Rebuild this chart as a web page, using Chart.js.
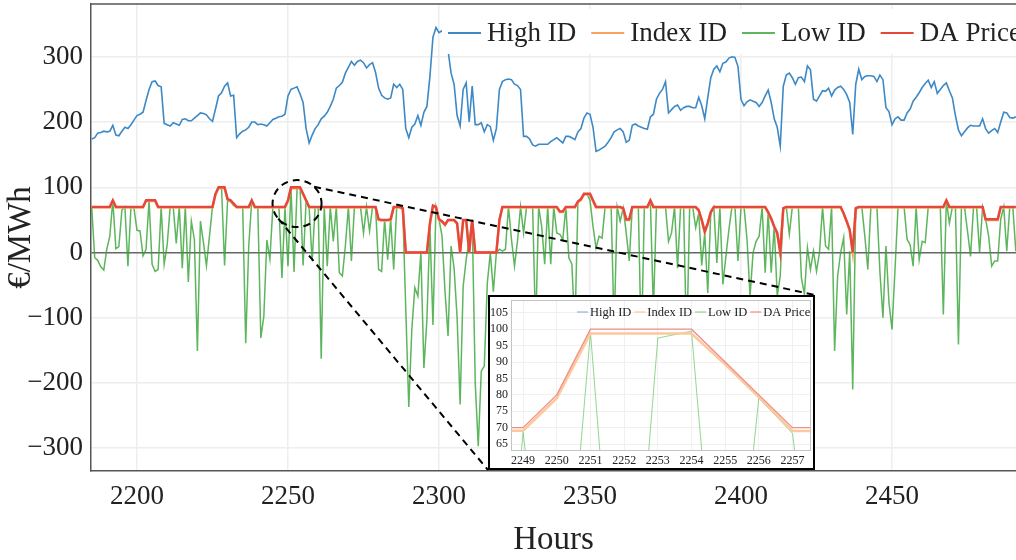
<!DOCTYPE html>
<html>
<head>
<meta charset="utf-8">
<script src="https://cdn.jsdelivr.net/npm/chart.js@4.4.1/dist/chart.umd.min.js"></script>
<style>
  html, body { margin: 0; padding: 0; background: #fff; }
  #wrap { position: relative; width: 1016px; height: 560px; overflow: hidden; }
  #mainChart { position: absolute; left: 0; top: 0; }
  #insetBox { position: absolute; left: 488px; top: 295px; width: 327px; height: 175px;
              box-sizing: border-box; border: 2px solid #000; background: #fff; }
  #insetChart { display: block; }
</style>
</head>
<body>
<div id="wrap">
  <canvas id="mainChart" width="1016" height="560"></canvas>
  <div id="insetBox"><canvas id="insetChart" width="323" height="171"></canvas></div>
</div>
<script>
// hourly prices, first value is hour 2185
const startHour = 2185;

const highID = [
  174,176,183,184,186,185,186,195,180,179,
  186,192,190,196,203,210,212,215,233,250,
  262,263,256,254,198,196,194,199,197,195,
  204,205,202,202,206,210,214,213,211,205,
  201,220,240,245,255,260,240,241,176,182,
  186,188,192,200,200,196,197,196,194,199,
  204,206,208,209,212,240,250,252,254,243,
  230,190,168,180,190,196,205,209,215,224,
  235,252,256,261,275,284,293,287,293,295,
  291,283,288,291,276,252,241,237,235,237,
  258,253,258,250,190,176,192,197,210,195,
  215,224,270,330,345,337,340,330,310,275,
  258,210,194,250,260,200,255,196,196,199,
  185,196,193,172,190,250,262,265,266,265,
  258,256,250,178,178,174,165,163,166,166,
  166,166,170,173,176,172,168,178,178,176,
  173,185,190,206,214,212,192,155,157,160,
  163,169,176,185,188,190,185,169,172,195,
  197,194,192,190,189,208,212,235,244,250,
  262,214,219,224,226,218,222,224,224,222,
  222,238,225,205,238,268,281,286,277,290,
  292,298,300,299,285,235,225,231,234,232,
  230,224,230,240,249,230,205,192,163,255,
  272,275,268,258,268,269,262,286,280,235,
  232,240,248,247,252,240,249,253,255,250,
  242,230,181,258,281,265,270,271,271,270,
  262,272,265,222,216,196,205,208,203,203,
  214,220,232,238,245,253,259,264,253,262,
  244,250,256,260,248,237,210,188,179,185,
  191,195,194,194,194,205,190,183,187,190,
  184,200,215,214,207,206,208
];

const indexID = [
  69,69,69,69,69,69,69,79,69,69,
  69,69,69,69,69,69,69,69,79,79,
  79,79,69,69,69,69,69,69,69,69,
  69,69,69,69,69,69,69,69,69,69,
  69,89,98.7,98.7,98.7,81,79,74,69,69,
  69,69,69,79,69,69,69,69,69,69,
  69,69,69,69,69.1,79,98.7,98.7,98.7,98.7,
  89.3,79.3,69,69,69,69,69,69,69,69,
  69,69,69,69,69,69,69,69,69,69,
  69,69,69,69,69,50,49,49,49,50,
  69,69,69,67,0,0,0,0,0,0,
  0,0,44,71,69,50,47,42,49,49,
  49,44,0,49,49,0,49,0,0,0,
  0,0,0,0,0,49,69,69,69,69,
  69,69,69,69,69,69,69,69,69,69,
  69,69,69,69,69,62,62,69,69,69,
  69,77,81,89,89,89,79,69,69,69,
  69,69,69,69,69,69,67,50,50,69,
  69,69,69,69,69,79,69,69,69,69,
  69,69,69,69,69,69,69,69,69,69,
  69,64,49,31,44,61,69,69,69,69,
  69,69,69,69,69,69,69,69,69,69,
  69,69,69,69,61,51,39,29,0,67,
  69,69,69,69,69,69,69,69,69,69,
  69,69,69,69,69,69,69,69,69,59,
  47,34,0,67,69,69,69,69,69,69,
  69,69,69,69,69,69,69,69,69,69,
  69,69,69,69,69,69,69,69,69,69,
  69,69,69,79,69,69,69,69,69,69,
  69,69,69,69,69,69,50,50,50,50,
  50,69,69,69,69,69,69
];

const lowID = [
  70,-8,-12,-22,-27,5,25,80,6,9,
  65,70,-21,70,68,34,33,-5,5,80,
  -18,-29,-26,70,-18,12,70,70,14,70,
  -24,70,-45,48,20,-151,48,15,-20,25,
  70,90,100,100,-20,80,78,72,70,70,
  70,-139,10,80,70,70,-131,-98,19,-10,
  70,70,70,-39,68.6,-21,99,-30,97.3,99.4,
  -20,79,68.3,-13,70,70,-163,70,-21,70,
  17,70,-31,-36,10,70,-13,70,70,70,
  30,70,33,70,70,-26,-29,51,-11,51,
  -26,70,70,65,-87,-237,-118,-54,-67,0,
  -177,-103,40,-111,70,51,25,-60,-128,10,
  -24,-100,-233,-52,-11,20,51,-200,-297,-182,
  -174,-47,0,-60,0,5,2,5,70,20,
  -21,18,70,30,70,70,70,-120,70,40,
  -18,70,-18,70,30,28,20,70,-8,-18,
  -120,78,80,90,90,80,40,7,25,22,
  70,70,70,-120,70,48,68,30,-13,70,
  70,70,-150,70,70,78,-90,70,70,70,
  70,17,30,70,-24,70,70,-150,70,70,
  38,60,-20,30,-62,62,70,-16,70,-49,
  -6,35,70,70,-13,70,70,20,-67,0,
  17,25,70,-31,62,-31,40,-67,-36,68,
  70,28,70,70,70,-39,-64,7,-26,2,
  -29,0,70,10,5,70,-151,-36,0,23,
  -95,2,-210,68,70,70,25,-26,70,70,
  70,-30,-100,10,-77,-118,-26,70,70,70,
  20,12,-21,70,-11,17,15,70,70,70,
  70,70,-95,80,45,70,70,-141,70,70,
  33,-6,70,70,0,70,51,25,-21,-13,
  -13,51,70,2,70,70,2
];

const daPrice = [
  70,70,70,70,70,70,70,80,70,70,
  70,70,70,70,70,70,70,70,80,80,
  80,80,70,70,70,70,70,70,70,70,
  70,70,70,70,70,70,70,70,70,70,
  70,90,100,100,100,82,80,75,70,70,
  70,70,70,80,70,70,70,70,70,70,
  70,70,70,70,70,80,100,100,100,100,
  90,80,70,70,70,70,70,70,70,70,
  70,70,70,70,70,70,70,70,70,70,
  70,70,70,70,70,51,50,50,50,51,
  70,70,70,68,0,0,0,0,0,0,
  0,0,45,72,70,51,48,43,50,50,
  50,45,0,50,50,0,50,0,0,0,
  0,0,0,0,0,50,70,70,70,70,
  70,70,70,70,70,70,70,70,70,70,
  70,70,70,70,70,63,63,70,70,70,
  70,78,82,90,90,90,80,70,70,70,
  70,70,70,70,70,70,68,51,51,70,
  70,70,70,70,70,80,70,70,70,70,
  70,70,70,70,70,70,70,70,70,70,
  70,65,50,32,45,62,70,70,70,70,
  70,70,70,70,70,70,70,70,70,70,
  70,70,70,70,62,52,40,30,0,68,
  70,70,70,70,70,70,70,70,70,70,
  70,70,70,70,70,70,70,70,70,60,
  48,35,0,68,70,70,70,70,70,70,
  70,70,70,70,70,70,70,70,70,70,
  70,70,70,70,70,70,70,70,70,70,
  70,70,70,80,70,70,70,70,70,70,
  70,70,70,70,70,70,51,51,51,51,
  51,70,70,70,70,70,70
];

const hours = highID.map((_, k) => startHour + k);
const insetTicks = [2249, 2250, 2251, 2252, 2253, 2254, 2255, 2256, 2257];
const zoomCenter = [2253, 75];   // hour, price at the dashed circle

const seriesNames = ['High ID', 'Index ID', 'Low ID', 'DA Price'];
const mainColors = ['#3d89c6', '#f7a25e', 'rgba(52,163,52,0.8)', '#e6463b'];
const insetColors = ['#8ab8dd', '#fcc89c', 'rgba(110,200,110,0.75)', '#f08c88'];

Chart.defaults.font.family = '"Liberation Serif", "Times New Roman", serif';
Chart.defaults.color = '#222';

function pts(arr) {
  return hours.map((h, k) => ({x: h, y: arr[k]}));
}

function makeDatasets(colors, widths) {
  const arrs = [highID, indexID, lowID, daPrice];
  const order = [3, 1, 2, 0];
  return arrs.map((a, k) => ({
    label: seriesNames[k],
    data: pts(a),
    borderColor: colors[k],
    borderWidth: widths[k],
    pointRadius: 0,
    tension: 0,
    order: order[k]
  }));
}

// no extra room for the end tick labels
function noEdgePad(s) {
  s.paddingTop = 0; s.paddingBottom = 0;
  s.paddingLeft = 0; s.paddingRight = 0;
}

function drawLegend(ctx, o, colors) {
  ctx.save();
  if (o.bg) {
    ctx.fillStyle = '#fff';
    ctx.fillRect(o.bg[0], o.bg[1], o.bg[2], o.bg[3]);
  }
  ctx.font = o.size + 'px "Liberation Serif"';
  ctx.textBaseline = 'middle';
  let x = o.x;
  seriesNames.forEach((name, k) => {
    ctx.strokeStyle = colors[k];
    ctx.lineWidth = o.lw;
    ctx.beginPath();
    ctx.moveTo(x, o.y);
    ctx.lineTo(x + o.sample, o.y);
    ctx.stroke();
    x += o.sample + o.gap;
    ctx.fillStyle = '#222';
    ctx.fillText(name, x, o.y + 1);
    x += ctx.measureText(name).width + o.after;
  });
  ctx.restore();
}

const mainExtras = {
  id: 'mainExtras',
  afterDatasetsDraw(chart) {
    const ctx = chart.ctx, a = chart.chartArea;
    drawLegend(ctx, {bg: [442, 9, 574, 45], x: 448, y: 33, size: 27, sample: 33, gap: 6, after: 15, lw: 2}, mainColors);

    // top frame line
    ctx.save();
    ctx.strokeStyle = '#555';
    ctx.lineWidth = 1.5;
    ctx.beginPath();
    ctx.moveTo(a.left, a.top);
    ctx.lineTo(a.right, a.top);
    ctx.stroke();
    ctx.restore();

    // dashed zoom marker
    const cx = chart.scales.x.getPixelForValue(zoomCenter[0]);
    const cy = chart.scales.y.getPixelForValue(zoomCenter[1]);
    const rx = 24.5, ry = 23.5;
    const box = document.getElementById('insetBox');
    const bl = box.offsetLeft, bt = box.offsetTop;
    const br = bl + box.offsetWidth, bb = bt + box.offsetHeight;
    const t1 = -46 * Math.PI / 180, t2 = 140 * Math.PI / 180;
    ctx.save();
    ctx.strokeStyle = '#000';
    ctx.lineWidth = 2;
    ctx.setLineDash([7, 5]);
    ctx.beginPath();
    ctx.ellipse(cx, cy, rx, ry, 0, 0, Math.PI * 2);
    ctx.stroke();
    ctx.beginPath();
    ctx.moveTo(cx + rx * Math.cos(t1), cy + ry * Math.sin(t1));
    ctx.lineTo(br, bt);
    ctx.moveTo(cx + rx * Math.cos(t2), cy + ry * Math.sin(t2));
    ctx.lineTo(bl, bb);
    ctx.stroke();
    ctx.restore();
  }
};

new Chart(document.getElementById('mainChart'), {
  type: 'line',
  data: { datasets: makeDatasets(mainColors, [1.6, 2.5, 1.5, 2.4]) },
  options: {
    responsive: false,
    animation: false,
    devicePixelRatio: 1,
    layout: { padding: { top: 4, right: 0, left: 0, bottom: 0 } },
    plugins: { legend: { display: false }, tooltip: { enabled: false } },
    scales: {
      x: {
        type: 'linear',
        min: 2184.77,
        max: 2491.06,
        afterFit: s => { s.height = 89; noEdgePad(s); },
        ticks: { stepSize: 50, includeBounds: false, padding: 10, font: { size: 27 }, maxRotation: 0,
                 callback: v => String(v) },
        grid: { color: '#eeeeee', lineWidth: 1.5, drawTicks: false },
        border: { display: true, color: '#555', width: 1.5 },
        title: { display: true, text: 'Hours', font: { size: 33 }, padding: { top: 0, bottom: 0 } }
      },
      y: {
        min: -335,
        max: 381,
        afterFit: s => { s.width = 91; noEdgePad(s); },
        ticks: { stepSize: 100, includeBounds: false, padding: 8, font: { size: 27 },
                 callback: v => (v < 0 ? '\u2212' + Math.abs(v) : String(v)) },
        grid: {
          color: c => (c.tick && c.tick.value === 0 ? '#666' : '#eeeeee'),
          lineWidth: 1.5,
          drawTicks: false
        },
        border: { display: true, color: '#555', width: 1.5 },
        title: { display: true, text: '\u20ac/MWh', font: { size: 33 }, padding: { top: 2, bottom: 0 } }
      }
    }
  },
  plugins: [mainExtras]
});

const insetExtras = {
  id: 'insetExtras',
  afterDatasetsDraw(chart) {
    const ctx = chart.ctx, a = chart.chartArea;
    ctx.save();
    ctx.strokeStyle = '#c4c4c4';
    ctx.lineWidth = 1;
    ctx.strokeRect(a.left + 0.5, a.top + 0.5, a.right - a.left - 1, a.bottom - a.top - 1);
    ctx.restore();
    drawLegend(ctx, {x: 87, y: 15, size: 12.5, sample: 11, gap: 2, after: 3, lw: 1.2}, insetColors);
  }
};

new Chart(document.getElementById('insetChart'), {
  type: 'line',
  data: { datasets: makeDatasets(insetColors, [1, 2.5, 1, 1.3]) },
  options: {
    responsive: false,
    animation: false,
    devicePixelRatio: 1,
    layout: { padding: { top: 3, right: 2, left: 0, bottom: 0 } },
    plugins: { legend: { display: false }, tooltip: { enabled: false } },
    scales: {
      x: {
        type: 'linear',
        min: 2248.64,
        max: 2257.55,
        afterFit: s => { s.height = 17; noEdgePad(s); },
        afterBuildTicks: s => { s.ticks = insetTicks.map(v => ({value: v})); },
        ticks: { padding: 3, font: { size: 12 }, maxRotation: 0, autoSkip: false,
                 callback: v => String(v) },
        grid: { color: '#f0f0f0', lineWidth: 1, drawTicks: false },
        border: { display: false }
      },
      y: {
        min: 62.9,
        max: 108.9,
        afterFit: s => { s.width = 21; noEdgePad(s); },
        ticks: { stepSize: 5, includeBounds: false, padding: 3, font: { size: 12 } },
        grid: { color: '#f0f0f0', lineWidth: 1, drawTicks: false },
        border: { display: false }
      }
    }
  },
  plugins: [insetExtras]
});
</script>
</body>
</html>
